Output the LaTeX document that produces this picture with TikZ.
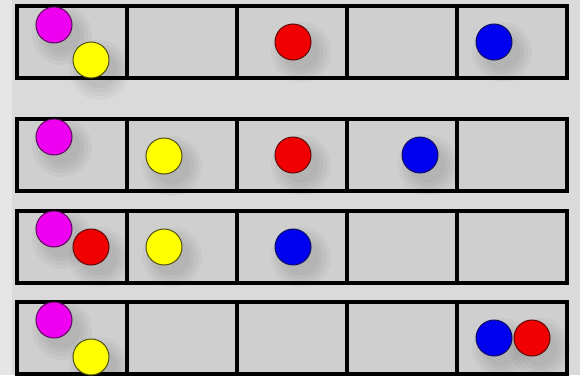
\documentclass[tikz,border=0pt]{standalone}
\usetikzlibrary{positioning}
\definecolor{bgc}{HTML}{DADADA}
\definecolor{cellc}{HTML}{CFCFCF}
\definecolor{mag}{HTML}{F000F0}
\definecolor{magd}{HTML}{5A0A5A}
\definecolor{yel}{HTML}{FFFF00}
\definecolor{yeld}{HTML}{505010}
\definecolor{redc}{HTML}{F00000}
\definecolor{redd}{HTML}{600808}
\definecolor{blu}{HTML}{0000F0}
\definecolor{blud}{HTML}{101060}
\tikzset{
  cellbox/.style={draw=black, line width=4pt, fill=cellc, minimum width=110pt, minimum height=72pt, inner sep=0pt, outer sep=0pt},
  ball/.style={circle, minimum size=36pt, inner sep=0pt, line width=1pt},
  mball/.style={ball, fill=mag, draw=magd},
  yball/.style={ball, fill=yel, draw=yeld},
  rball/.style={ball, fill=redc, draw=redd},
  bball/.style={ball, fill=blu, draw=blud},
  shadelayer/.style={fill=black, opacity=0.03},
}
\begin{document}
\begin{tikzpicture}[x=1pt,y=-1pt]
\useasboundingbox (0,0) rectangle (580,375);
\fill[bgc] (0,0) rectangle (580,375);
\fill[white, opacity=0.35] (0,0) rectangle (12,375);
% cells
\foreach \r/\yc in {1/42, 2/154.5, 3/246.5, 4/338} {
  \foreach \c in {1,...,5} {
    \node[cellbox] (c\r\c) at ({17+110*(\c-0.5)},\yc) {};
  }
}
% soft shadows
\foreach \x/\y in {54/25, 91/60, 293/42, 494/42, 54/137, 164/156, 293/155, 420/155, 54/229, 91/247, 164/247, 293/247, 54/320, 91/357, 494/338, 532/338} {
  \foreach \s in {30,26,22,18} {
    \fill[shadelayer] (\x+8,\y+10) circle (\s pt);
  }
}
% redraw grid lines on top of shadows
\foreach \r in {1,...,4} {
  \foreach \c in {1,...,5} {
    \draw[black, line width=4pt] (c\r\c.north west) rectangle (c\r\c.south east);
  }
}
% row 1
\node[mball] (m1) at (54,25) {};
\node[yball] (y1) at (91,60) {};
\node[rball] (r1) at (293,42) {};
\node[bball] (b1) at (494,42) {};
% row 2
\node[mball] (m2) at (54,137) {};
\node[yball] (y2) at (164,156) {};
\node[rball] (r2) at (293,155) {};
\node[bball] (b2) at (420,155) {};
% row 3
\node[mball] (m3) at (54,229) {};
\node[rball] (r3) at (91,247) {};
\node[yball] (y3) at (164,247) {};
\node[bball] (b3) at (293,247) {};
% row 4
\node[mball] (m4) at (54,320) {};
\node[yball] (y4) at (91,357) {};
\node[bball] (b4) at (494,338) {};
\node[rball] (r4) at (532,338) {};
\end{tikzpicture}
\end{document}
